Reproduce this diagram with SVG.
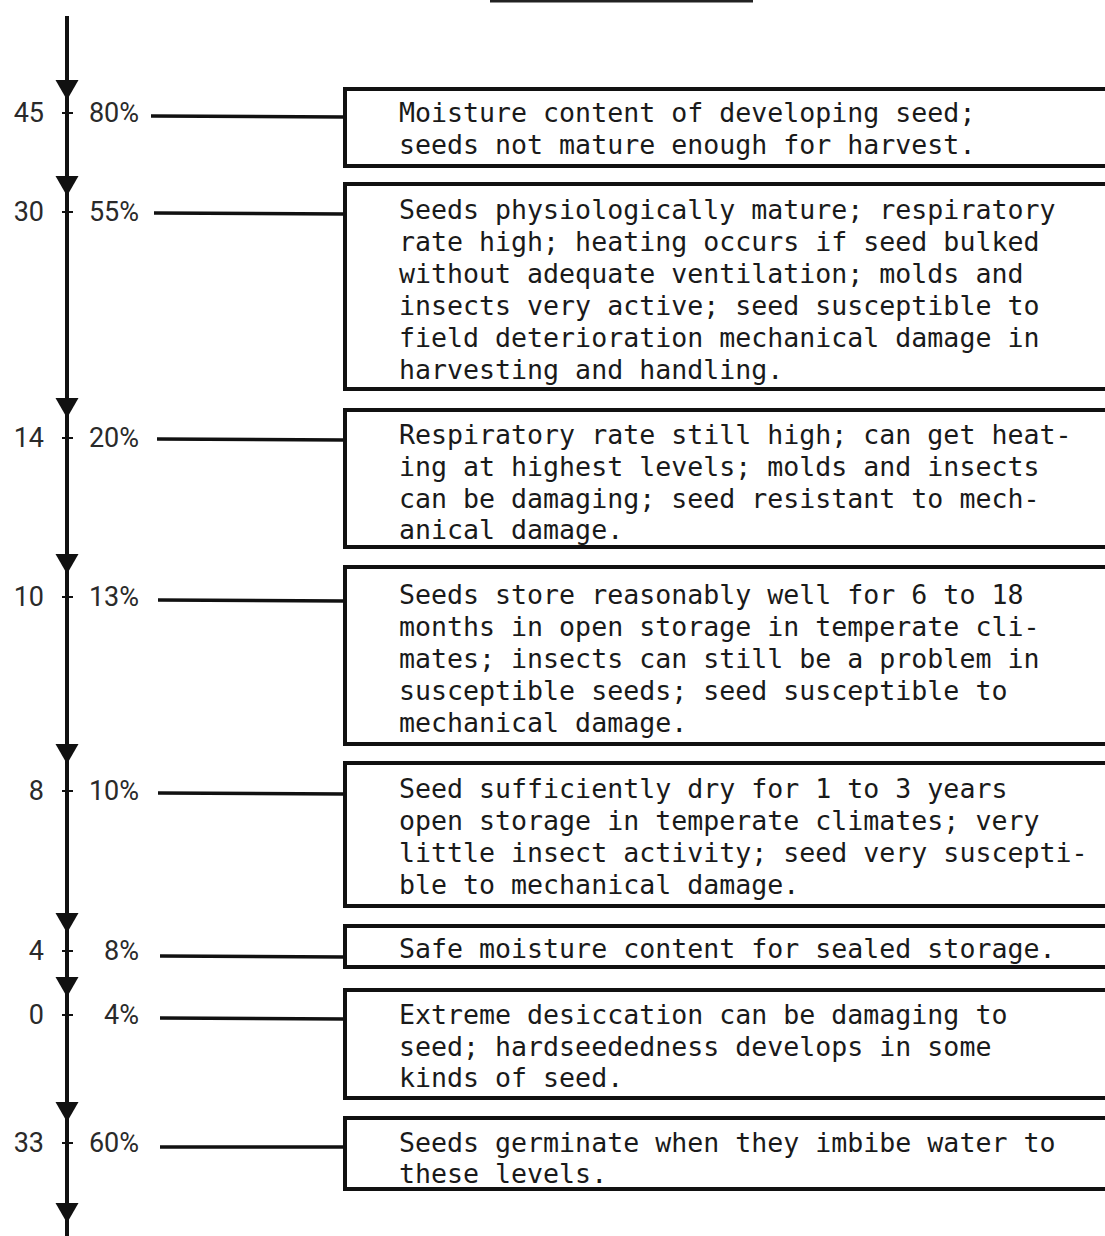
<svg xmlns="http://www.w3.org/2000/svg" width="1105" height="1236" viewBox="0 0 1105 1236">
<style>
.box{fill:#fff;stroke:#111;stroke-width:4}
.t{font-family:"DejaVu Sans Mono","Liberation Mono",monospace;font-size:26.6px;fill:#1a1a1a}
.lb{font-family:Roboto,"Liberation Sans",sans-serif;font-size:27px;fill:#2a2a2a;text-anchor:end}
.ln{stroke:#111;stroke-width:3.5;fill:none}
.tick{stroke:#111;stroke-width:2}
</style>
<defs>
<polygon id="ah" points="-11.5,0 11.5,0 0,20" fill="#111"/>
</defs>
<rect width="1105" height="1236" fill="#fff"/>
<line x1="490" y1="1" x2="753" y2="1" stroke="#222" stroke-width="3"/>
<g id="axis">
<line x1="67" y1="16" x2="67" y2="1236" stroke="#111" stroke-width="4"/>
<use href="#ah" x="67" y="80"/>
<use href="#ah" x="67" y="176"/>
<use href="#ah" x="67" y="398"/>
<use href="#ah" x="67" y="554"/>
<use href="#ah" x="67" y="744"/>
<use href="#ah" x="67" y="913"/>
<use href="#ah" x="67" y="977"/>
<use href="#ah" x="67" y="1102"/>
<use href="#ah" x="67" y="1203"/>
<line class="tick" x1="62" y1="113" x2="73" y2="113"/>
<line class="tick" x1="62" y1="212" x2="73" y2="212"/>
<line class="tick" x1="62" y1="438" x2="73" y2="438"/>
<line class="tick" x1="62" y1="597" x2="73" y2="597"/>
<line class="tick" x1="62" y1="791" x2="73" y2="791"/>
<line class="tick" x1="62" y1="951" x2="73" y2="951"/>
<line class="tick" x1="62" y1="1015" x2="73" y2="1015"/>
<line class="tick" x1="62" y1="1143" x2="73" y2="1143"/>
</g>
<g id="labels">
<text class="lb" x="44" y="122">45</text><text class="lb" x="139" y="122">80%</text>
<text class="lb" x="44" y="221">30</text><text class="lb" x="139" y="221">55%</text>
<text class="lb" x="44" y="447">14</text><text class="lb" x="139" y="447">20%</text>
<text class="lb" x="44" y="606">10</text><text class="lb" x="139" y="606">13%</text>
<text class="lb" x="44" y="800">8</text><text class="lb" x="139" y="800">10%</text>
<text class="lb" x="44" y="960">4</text><text class="lb" x="139" y="960">8%</text>
<text class="lb" x="44" y="1024">0</text><text class="lb" x="139" y="1024">4%</text>
<text class="lb" x="44" y="1152">33</text><text class="lb" x="139" y="1152">60%</text>
</g>
<g id="connectors">
<line class="ln" x1="151" y1="116" x2="345" y2="117"/>
<line class="ln" x1="154" y1="213" x2="345" y2="214"/>
<line class="ln" x1="157" y1="439" x2="345" y2="440"/>
<line class="ln" x1="158" y1="600" x2="345" y2="601"/>
<line class="ln" x1="158" y1="793" x2="345" y2="794"/>
<line class="ln" x1="160" y1="956" x2="345" y2="957"/>
<line class="ln" x1="160" y1="1018" x2="345" y2="1019"/>
<line class="ln" x1="160" y1="1147" x2="345" y2="1147"/>
</g>
<g id="box1"><rect class="box" x="345" y="89" width="780" height="77"/>
<text class="t" x="399" y="122">Moisture content of developing seed;</text>
<text class="t" x="399" y="154">seeds not mature enough for harvest.</text></g>
<g id="box2"><rect class="box" x="345" y="184" width="780" height="205"/>
<text class="t" x="399" y="219">Seeds physiologically mature; respiratory</text>
<text class="t" x="399" y="251">rate high; heating occurs if seed bulked</text>
<text class="t" x="399" y="283">without adequate ventilation; molds and</text>
<text class="t" x="399" y="315">insects very active; seed susceptible to</text>
<text class="t" x="399" y="347">field deterioration mechanical damage in</text>
<text class="t" x="399" y="379">harvesting and handling.</text></g>
<g id="box3"><rect class="box" x="345" y="410" width="780" height="137"/>
<text class="t" x="399" y="444">Respiratory rate still high; can get heat-</text>
<text class="t" x="399" y="476">ing at highest levels; molds and insects</text>
<text class="t" x="399" y="508">can be damaging; seed resistant to mech-</text>
<text class="t" x="399" y="539">anical damage.</text></g>
<g id="box4"><rect class="box" x="345" y="567" width="780" height="177"/>
<text class="t" x="399" y="604">Seeds store reasonably well for 6 to 18</text>
<text class="t" x="399" y="636">months in open storage in temperate cli-</text>
<text class="t" x="399" y="668">mates; insects can still be a problem in</text>
<text class="t" x="399" y="700">susceptible seeds; seed susceptible to</text>
<text class="t" x="399" y="732">mechanical damage.</text></g>
<g id="box5"><rect class="box" x="345" y="763" width="780" height="143"/>
<text class="t" x="399" y="798">Seed sufficiently dry for 1 to 3 years</text>
<text class="t" x="399" y="830">open storage in temperate climates; very</text>
<text class="t" x="399" y="862">little insect activity; seed very suscepti-</text>
<text class="t" x="399" y="894">ble to mechanical damage.</text></g>
<g id="box6"><rect class="box" x="345" y="926" width="780" height="41"/>
<text class="t" x="399" y="958">Safe moisture content for sealed storage.</text></g>
<g id="box7"><rect class="box" x="345" y="990" width="780" height="108"/>
<text class="t" x="399" y="1024">Extreme desiccation can be damaging to</text>
<text class="t" x="399" y="1056">seed; hardseededness develops in some</text>
<text class="t" x="399" y="1087">kinds of seed.</text></g>
<g id="box8"><rect class="box" x="345" y="1118" width="780" height="71"/>
<text class="t" x="399" y="1152">Seeds germinate when they imbibe water to</text>
<text class="t" x="399" y="1183">these levels.</text></g>
</svg>
